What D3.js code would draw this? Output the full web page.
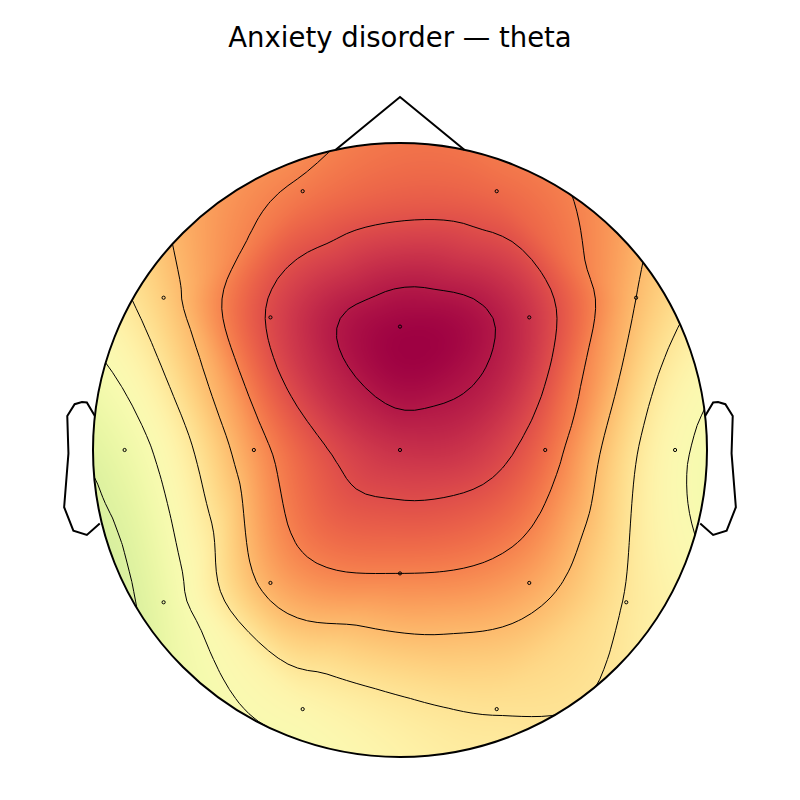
<!DOCTYPE html>
<html>
<head>
<meta charset="utf-8">
<script src="https://cdn.jsdelivr.net/npm/d3@7"></script>
<style>
  html, body { margin: 0; padding: 0; background: #ffffff; }
  svg { display: block; }
</style>
</head>
<body>
<div id="chart"></div>
<script>
// ---------------- data ----------------
const chartTitle = "Anxiety disorder — theta";
const channels = ["Fp1","Fp2","F7","F3","Fz","F4","F8","T3","C3","Cz","C4","T4","T5","P3","Pz","P4","T6","O1","O2"];
// theta values (arbitrary units)
const thetaValues = [3.15, 3.45, 1.6, 4.1, 5.35, 4.55, 2.0, -0.5, 2.6, 4.55, 3.45, 0.22, -0.55, 2.25, 3.0, 2.4, 0.95, 0.35, 1.05];
const colorLimits = [-5.2, 5.4];
const contourLevels = [-1, 0, 1, 2, 3, 4, 5];

// montage (sensor layout, in head-radius units, x right, y down)
const sensorX = [-0.317, 0.315, -0.770, -0.422, 0.000, 0.421, 0.769, -0.897, -0.476, 0.000, 0.473, 0.896, -0.770, -0.422, 0.000, 0.421, 0.737, -0.317, 0.315];
const sensorY = [-0.843, -0.843, -0.496, -0.432, -0.402, -0.432, -0.496, 0.000, 0.000, 0.000, 0.000, 0.000, 0.496, 0.433, 0.402, 0.433, 0.496, 0.844, 0.844];

// head outline shape (MNE standard)
const earX = [.497, .510, .518, .5299, .5419, .54, .547, .532, .510, .489];
const earY = [.0555, .0775, .0783, .0746, .0555, -.0055, -.0932, -.1313, -.1384, -.1199];

// ---------------- layout ----------------
const W = 800, H = 800;
const cx = 400, cy = 450, R = 307;
const RES = 64;

const sx = d3.scaleLinear().domain([-1, 1]).range([cx - R, cx + R]);
const sy = d3.scaleLinear().domain([-1, 1]).range([cy - R, cy + R]);

// ---------------- extrapolation points (head) ----------------
const nOrig = channels.length;
const pts = channels.map((c, i) => [sensorX[i], sensorY[i]]);
const del0 = d3.Delaunay.from(pts);
const dists = [];
for (let t = 0; t < del0.triangles.length; t += 3) {
  const a = del0.triangles[t], b = del0.triangles[t + 1], c = del0.triangles[t + 2];
  dists.push(Math.hypot(pts[a][0] - pts[b][0], pts[a][1] - pts[b][1]));
  dists.push(Math.hypot(pts[b][0] - pts[c][0], pts[b][1] - pts[c][1]));
}
const medDist = d3.median(dists);
const nExtra = Math.max(12, Math.round(2 * Math.PI / Math.asin(Math.min(0.99, medDist))));
const ringR = 1.1 + medDist;
const allPts = pts.slice();
for (let k = 0; k < nExtra; k++) {
  const a = 2 * Math.PI * k / nExtra;
  allPts.push([Math.cos(a) * ringR, -Math.sin(a) * ringR]);
}
const del = d3.Delaunay.from(allPts);
const NP = allPts.length;
const extraVals = [], extraUsed = [];
for (let k = 0; k < nExtra; k++) {
  const ngb = Array.from(del.neighbors(nOrig + k)).filter(j => j < nOrig);
  extraUsed.push(ngb.length > 0);
  extraVals.push(ngb.length ? d3.mean(ngb, j => thetaValues[j]) : 0);
}
const usedMean = d3.mean(extraVals.filter((v, k) => extraUsed[k]));
const vals = thetaValues.concat(extraVals.map((v, k) => extraUsed[k] ? v : usedMean));

// ---------------- gradient estimation (global, as in Clough-Tocher) ----------------
const grad = new Float64Array(2 * NP);
const nbrs = d3.range(NP).map(i => Array.from(del.neighbors(i)));
for (let it = 0; it < 400; it++) {
  let err = 0;
  for (let i = 0; i < NP; i++) {
    let q0 = 0, q1 = 0, q3 = 0, s0 = 0, s1 = 0;
    for (const j of nbrs[i]) {
      const ex = allPts[j][0] - allPts[i][0], ey = allPts[j][1] - allPts[i][1];
      const L = Math.hypot(ex, ey), L3 = L * L * L;
      const f1 = vals[i], f2 = vals[j];
      const df2 = -ex * grad[2 * j] - ey * grad[2 * j + 1];
      q0 += 4 * ex * ex / L3; q1 += 4 * ex * ey / L3; q3 += 4 * ey * ey / L3;
      s0 += (6 * (f1 - f2) - 2 * df2) * ex / L3;
      s1 += (6 * (f1 - f2) - 2 * df2) * ey / L3;
    }
    const det = q0 * q3 - q1 * q1;
    const r0 = (q3 * s0 - q1 * s1) / det;
    const r1 = (-q1 * s0 + q0 * s1) / det;
    let change = Math.max(Math.abs(grad[2 * i] + r0), Math.abs(grad[2 * i + 1] + r1));
    grad[2 * i] = -r0; grad[2 * i + 1] = -r1;
    change /= Math.max(1, Math.abs(r0), Math.abs(r1));
    err = Math.max(err, change);
  }
  if (err < 1e-6) break;
}

// ---------------- triangles ----------------
const T = del.triangles, HE = del.halfedges;
const nTri = T.length / 3;
const triInfo = [];
for (let t = 0; t < nTri; t++) {
  const i0 = T[3 * t], i1 = T[3 * t + 1], i2 = T[3 * t + 2];
  const [x0, y0] = allPts[i0], [x1, y1] = allPts[i1], [x2, y2] = allPts[i2];
  const den = (y1 - y2) * (x0 - x2) + (x2 - x1) * (y0 - y2);
  triInfo.push({ v: [i0, i1, i2], x2, y2,
    a: (y1 - y2) / den, b: (x2 - x1) / den, c: (y2 - y0) / den, d: (x0 - x2) / den });
}
function bary(ti, x, y) {
  const dx = x - ti.x2, dy = y - ti.y2;
  const l0 = ti.a * dx + ti.b * dy, l1 = ti.c * dx + ti.d * dy;
  return [l0, l1, 1 - l0 - l1];
}
function neighbourTri(t, k) {
  const h = HE[3 * t + (k + 1) % 3];
  return h < 0 ? -1 : Math.floor(h / 3);
}
for (let t = 0; t < nTri; t++) {
  const g = [0, 0, 0];
  for (let k = 0; k < 3; k++) {
    const nt = neighbourTri(t, k);
    if (nt < 0) { g[k] = -0.5; continue; }
    const v = triInfo[nt].v;
    const yx = (allPts[v[0]][0] + allPts[v[1]][0] + allPts[v[2]][0]) / 3;
    const yy = (allPts[v[0]][1] + allPts[v[1]][1] + allPts[v[2]][1]) / 3;
    const c = bary(triInfo[t], yx, yy);
    if (k === 0) g[k] = (2 * c[2] + c[1] - 1) / (2 - 3 * c[2] - 3 * c[1]);
    else if (k === 1) g[k] = (2 * c[0] + c[2] - 1) / (2 - 3 * c[0] - 3 * c[2]);
    else g[k] = (2 * c[1] + c[0] - 1) / (2 - 3 * c[1] - 3 * c[0]);
  }
  triInfo[t].g = g;
}

function ctEval(t, b) {
  const ti = triInfo[t];
  const [i0, i1, i2] = ti.v;
  const P0 = allPts[i0], P1 = allPts[i1], P2 = allPts[i2];
  const e12x = P1[0] - P0[0], e12y = P1[1] - P0[1];
  const e23x = P2[0] - P1[0], e23y = P2[1] - P1[1];
  const e31x = P0[0] - P2[0], e31y = P0[1] - P2[1];
  const f1 = vals[i0], f2 = vals[i1], f3 = vals[i2];
  const df12 = +(grad[2 * i0] * e12x + grad[2 * i0 + 1] * e12y);
  const df21 = -(grad[2 * i1] * e12x + grad[2 * i1 + 1] * e12y);
  const df23 = +(grad[2 * i1] * e23x + grad[2 * i1 + 1] * e23y);
  const df32 = -(grad[2 * i2] * e23x + grad[2 * i2 + 1] * e23y);
  const df31 = +(grad[2 * i2] * e31x + grad[2 * i2 + 1] * e31y);
  const df13 = -(grad[2 * i0] * e31x + grad[2 * i0 + 1] * e31y);
  const c3000 = f1, c2100 = (df12 + 3 * c3000) / 3, c2010 = (df13 + 3 * c3000) / 3;
  const c0300 = f2, c1200 = (df21 + 3 * c0300) / 3, c0210 = (df23 + 3 * c0300) / 3;
  const c0030 = f3, c1020 = (df31 + 3 * c0030) / 3, c0120 = (df32 + 3 * c0030) / 3;
  const c2001 = (c2100 + c2010 + c3000) / 3;
  const c0201 = (c1200 + c0300 + c0210) / 3;
  const c0021 = (c1020 + c0120 + c0030) / 3;
  const g = ti.g;
  const c0111 = (g[0] * (-c0300 + 3 * c0210 - 3 * c0120 + c0030) + (-c0300 + 2 * c0210 - c0120 + c0021 + c0201)) / 2;
  const c1011 = (g[1] * (-c0030 + 3 * c1020 - 3 * c2010 + c3000) + (-c0030 + 2 * c1020 - c2010 + c2001 + c0021)) / 2;
  const c1101 = (g[2] * (-c3000 + 3 * c2100 - 3 * c1200 + c0300) + (-c3000 + 2 * c2100 - c1200 + c2001 + c0201)) / 2;
  const c1002 = (c1101 + c1011 + c2001) / 3;
  const c0102 = (c1101 + c0111 + c0201) / 3;
  const c0012 = (c1011 + c0111 + c0021) / 3;
  const c0003 = (c1002 + c0102 + c0012) / 3;
  const mn = Math.min(b[0], b[1], b[2]);
  const b1 = b[0] - mn, b2 = b[1] - mn, b3 = b[2] - mn, b4 = 3 * mn;
  return b1 ** 3 * c3000 + 3 * b1 ** 2 * b2 * c2100 + 3 * b1 ** 2 * b3 * c2010 +
    3 * b1 ** 2 * b4 * c2001 + 3 * b1 * b2 ** 2 * c1200 +
    6 * b1 * b2 * b4 * c1101 + 3 * b1 * b3 ** 2 * c1020 + 6 * b1 * b3 * b4 * c1011 +
    3 * b1 * b4 ** 2 * c1002 + b2 ** 3 * c0300 + 3 * b2 ** 2 * b3 * c0210 +
    3 * b2 ** 2 * b4 * c0201 + 3 * b2 * b3 ** 2 * c0120 + 6 * b2 * b3 * b4 * c0111 +
    3 * b2 * b4 ** 2 * c0102 + b3 ** 3 * c0030 + 3 * b3 ** 2 * b4 * c0021 +
    3 * b3 * b4 ** 2 * c0012 + b4 ** 3 * c0003;
}

function field(x, y) {
  let best = -1, bestMin = -Infinity, bestB = null;
  for (let t = 0; t < nTri; t++) {
    const b = bary(triInfo[t], x, y);
    const m = Math.min(b[0], b[1], b[2]);
    if (m > bestMin) { bestMin = m; best = t; bestB = b; }
    if (m >= 0) break;
  }
  return ctEval(best, bestB);
}

// ---------------- grid (res x res over head box) ----------------
const gridLin = d3.range(RES).map(i => -1 + 2 * i / (RES - 1));
const Zi = new Float64Array(RES * RES);
for (let j = 0; j < RES; j++) for (let i = 0; i < RES; i++) Zi[j * RES + i] = field(gridLin[i], gridLin[j]);

// ---------------- raster (bilinear upsampling, then colour map) ----------------
const tScale = d3.scaleLinear().domain(colorLimits).range([1, 0]).clamp(true);
const lut = d3.range(1024).map(i => d3.rgb(d3.interpolateSpectral(i / 1023)));
const px0 = Math.floor(cx - R) - 2, py0 = Math.floor(cy - R) - 2;
const PW = 2 * R + 6, PH = 2 * R + 6;
const canvas = document.createElement("canvas");
canvas.width = PW; canvas.height = PH;
const ctx = canvas.getContext("2d");
const img = ctx.createImageData(PW, PH);
function zAt(u, v) {
  u = Math.max(0, Math.min(RES - 1, u)); v = Math.max(0, Math.min(RES - 1, v));
  const i0 = Math.min(RES - 2, Math.floor(u)), j0 = Math.min(RES - 2, Math.floor(v));
  const fu = u - i0, fv = v - j0;
  const z00 = Zi[j0 * RES + i0], z10 = Zi[j0 * RES + i0 + 1];
  const z01 = Zi[(j0 + 1) * RES + i0], z11 = Zi[(j0 + 1) * RES + i0 + 1];
  return (z00 * (1 - fu) + z10 * fu) * (1 - fv) + (z01 * (1 - fu) + z11 * fu) * fv;
}
for (let j = 0; j < PH; j++) {
  const ny = sy.invert(py0 + j + 0.5);
  const v = (ny + 1) * RES / 2 - 0.5;
  for (let i = 0; i < PW; i++) {
    const nx = sx.invert(px0 + i + 0.5);
    const u = (nx + 1) * RES / 2 - 0.5;
    const c = lut[Math.round(tScale(zAt(u, v)) * 1023)];
    const k = 4 * (j * PW + i);
    img.data[k] = c.r; img.data[k + 1] = c.g; img.data[k + 2] = c.b; img.data[k + 3] = 255;
  }
}
ctx.putImageData(img, 0, 0);

// ---------------- svg ----------------
const svg = d3.select("#chart").append("svg")
  .attr("width", W).attr("height", H).attr("viewBox", `0 0 ${W} ${H}`);
svg.append("rect").attr("width", W).attr("height", H).attr("fill", "#ffffff");
svg.append("defs").append("clipPath").attr("id", "headClip")
  .append("circle").attr("cx", cx).attr("cy", cy).attr("r", R);

const mapG = svg.append("g").attr("clip-path", "url(#headClip)");
mapG.append("image")
  .attr("x", px0).attr("y", py0).attr("width", PW).attr("height", PH)
  .attr("preserveAspectRatio", "none")
  .attr("href", canvas.toDataURL());

const contourGen = d3.contours().size([RES, RES]).thresholds(contourLevels);
const step = 2 / (RES - 1);
const contourPath = d3.geoPath(d3.geoTransform({
  point(x, y) { this.stream.point(sx(-1 + (x - 0.5) * step), sy(-1 + (y - 0.5) * step)); }
}));
mapG.append("g").selectAll("path")
  .data(contourGen(Zi))
  .join("path")
  .attr("d", contourPath)
  .attr("fill", "none")
  .attr("stroke", "#000")
  .attr("stroke-width", 1);

// sensors
svg.append("g").selectAll("circle")
  .data(channels)
  .join("circle")
  .attr("cx", (d, i) => sx(sensorX[i]))
  .attr("cy", (d, i) => sy(sensorY[i]))
  .attr("r", 1.6)
  .attr("fill", "none")
  .attr("stroke", "#000")
  .attr("stroke-width", 1);

// head outline
const outline = svg.append("g").attr("fill", "none").attr("stroke", "#000")
  .attr("stroke-width", 2).attr("stroke-linejoin", "miter");
outline.append("circle").attr("cx", cx).attr("cy", cy).attr("r", R);
const nb = Math.acos(12 * Math.PI / 180);
const nose = [[-Math.cos(nb), -Math.sin(nb)], [0, -1.15], [Math.cos(nb), -Math.sin(nb)]];
const line = d3.line().x(d => sx(d[0])).y(d => sy(d[1]));
outline.append("path").attr("d", line(nose));
outline.append("path").attr("d", line(earX.map((x, i) => [x * 2, -earY[i] * 2])));
outline.append("path").attr("d", line(earX.map((x, i) => [-x * 2, -earY[i] * 2])));

// title
svg.append("text")
  .attr("x", 400).attr("y", 47)
  .attr("text-anchor", "middle")
  .attr("font-family", "DejaVu Sans, sans-serif")
  .attr("font-size", 27.5)
  .attr("fill", "#000")
  .text(chartTitle);
</script>
</body>
</html>
